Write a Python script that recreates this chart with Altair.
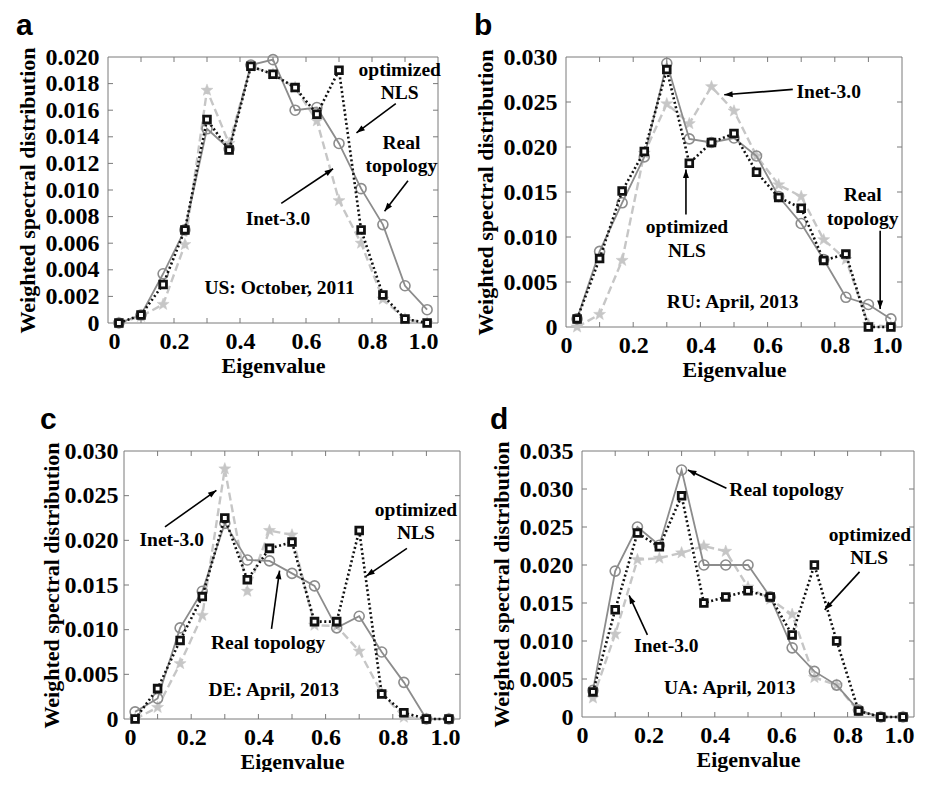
import math
import altair as alt
import pandas as pd

# ---------------- data ----------------
eigen = [0.033, 0.1, 0.167, 0.233, 0.3, 0.367, 0.433, 0.5, 0.567, 0.633, 0.7, 0.767, 0.833, 0.9, 0.967]

us_real = [0.0, 0.0006, 0.0037, 0.0070, 0.0146, 0.0131, 0.0194, 0.0198, 0.0160, 0.0162, 0.0135, 0.0101, 0.0074, 0.0028, 0.0010]
us_inet = [0.0, 0.0005, 0.0014, 0.0059, 0.0175, 0.0135, 0.0193, 0.0187, 0.0177, 0.0152, 0.0092, 0.0060, 0.0018, 0.0003, 0.0]
us_nls = [0.0, 0.0006, 0.0029, 0.0070, 0.0153, 0.0130, 0.0193, 0.0187, 0.0177, 0.0157, 0.0190, 0.0070, 0.0021, 0.0003, 0.0]

ru_real = [0.0009, 0.0084, 0.0138, 0.0189, 0.0293, 0.0209, 0.0205, 0.0210, 0.0190, 0.0145, 0.0115, 0.0075, 0.0033, 0.0025, 0.0009]
ru_inet = [0.0, 0.0014, 0.0074, 0.0193, 0.0248, 0.0226, 0.0267, 0.0240, 0.0190, 0.0158, 0.0145, 0.0097, 0.0075, 0.0003, 0.0]
ru_nls = [0.0009, 0.0076, 0.0151, 0.0195, 0.0286, 0.0182, 0.0205, 0.0215, 0.0172, 0.0144, 0.0132, 0.0074, 0.0081, 0.0, 0.0]

de_real = [0.0008, 0.0023, 0.0102, 0.0143, 0.0219, 0.0178, 0.0177, 0.0163, 0.0149, 0.0102, 0.0115, 0.0075, 0.0041, 0.0, 0.0]
de_inet = [0.0, 0.0013, 0.0062, 0.0116, 0.0280, 0.0143, 0.0211, 0.0206, 0.0105, 0.0104, 0.0076, 0.0029, 0.0002, 0.0, 0.0]
de_nls = [0.0, 0.0034, 0.0088, 0.0137, 0.0225, 0.0156, 0.0191, 0.0198, 0.0109, 0.0109, 0.0211, 0.0028, 0.0007, 0.0, 0.0]

ua_real = [0.0035, 0.0192, 0.0250, 0.0226, 0.0325, 0.0200, 0.0200, 0.0200, 0.0158, 0.0091, 0.0060, 0.0042, 0.0009, 0.0, 0.0]
ua_inet = [0.0025, 0.0109, 0.0207, 0.0209, 0.0216, 0.0225, 0.0218, 0.0171, 0.0155, 0.0135, 0.0052, 0.0042, 0.0007, 0.0, 0.0]
ua_nls = [0.0033, 0.0141, 0.0242, 0.0224, 0.0291, 0.0150, 0.0158, 0.0166, 0.0158, 0.0108, 0.0200, 0.0100, 0.0008, 0.0, 0.0]

x_labels = [0, 0.2, 0.4, 0.6, 0.8, 1.0]
x_minor = [0.1, 0.2, 0.3, 0.4, 0.5, 0.6, 0.7, 0.8, 0.9]
y_ticks_a = [0, 0.002, 0.004, 0.006, 0.008, 0.010, 0.012, 0.014, 0.016, 0.018, 0.020]
y_ticks_b = [0, 0.005, 0.010, 0.015, 0.020, 0.025, 0.030]
y_ticks_c = [0, 0.005, 0.010, 0.015, 0.020, 0.025, 0.030]
y_ticks_d = [0, 0.005, 0.010, 0.015, 0.020, 0.025, 0.030, 0.035]

# annotations: text, x, y
ann_a_text = ["optimized", "NLS", "Real", "topology", "Inet-3.0", "US: October, 2011"]
ann_a_x = [0.884, 0.884, 0.889, 0.889, 0.515, 0.52]
ann_a_y = [0.0190, 0.0173, 0.0135, 0.0118, 0.0078, 0.0026]
arr_a_x1 = [0.872, 0.909, 0.525]
arr_a_y1 = [0.0165, 0.0107, 0.0090]
arr_a_x2 = [0.753, 0.838, 0.682]
arr_a_y2 = [0.0143, 0.0084, 0.0116]

ann_b_text = ["Inet-3.0", "optimized", "NLS", "Real", "topology", "RU: April, 2013"]
ann_b_x = [0.782, 0.36, 0.36, 0.883, 0.883, 0.496]
ann_b_y = [0.0261, 0.0111, 0.0085, 0.0147, 0.0120, 0.0028]
arr_b_x1 = [0.675, 0.357, 0.935]
arr_b_y1 = [0.0264, 0.0125, 0.0107]
arr_b_x2 = [0.471, 0.357, 0.935]
arr_b_y2 = [0.0258, 0.0175, 0.0020]

ann_c_text = ["Inet-3.0", "optimized", "NLS", "Real topology", "DE: April, 2013"]
ann_c_x = [0.142, 0.869, 0.869, 0.429, 0.446]
ann_c_y = [0.0200, 0.0234, 0.0208, 0.0085, 0.0032]
arr_c_x1 = [0.122, 0.842, 0.439]
arr_c_y1 = [0.0215, 0.0191, 0.0101]
arr_c_x2 = [0.275, 0.721, 0.463]
arr_c_y2 = [0.0256, 0.0160, 0.0166]

ann_d_text = ["Real topology", "optimized", "NLS", "Inet-3.0", "UA: April, 2013"]
ann_d_x = [0.616, 0.867, 0.865, 0.254, 0.445]
ann_d_y = [0.0299, 0.0240, 0.0209, 0.0093, 0.0038]
arr_d_x1 = [0.435, 0.836, 0.197]
arr_d_y1 = [0.0301, 0.0191, 0.0108]
arr_d_x2 = [0.319, 0.731, 0.142]
arr_d_y2 = [0.0325, 0.0141, 0.0160]

# ---------------- styles ----------------
SERIF = "Liberation Serif"
SANS = "Liberation Sans"
FRAME = "#7a7a7a"
C_REAL = "#8c8c8c"
C_INET = "#c6c6c6"
C_NLS = "#111111"

star_pts = []
for k in range(10):
    r = 1.0 if k % 2 == 0 else 0.42
    ang = -math.pi / 2 + k * math.pi / 5
    star_pts.append(f"{r*math.cos(ang):.3f},{r*math.sin(ang):.3f}")
STAR = "M" + " L".join(star_pts) + " Z"
HEAD = "M0,0 L0.75,2.1 L-0.75,2.1 Z"


def panel(real, inet, nls, ymax, yticks, ann, arrows, letter, W, H, label_pad, title_pad,
          flush_last, off):
    xs = alt.Scale(domain=[0, 1], range=[off, off + W], nice=False, zero=False)
    ys = alt.Scale(domain=[0, ymax], nice=False, zero=False)
    xkw = {}
    if flush_last:
        xkw["labelAlign"] = {"condition": {"test": "datum.value >= 1", "value": "right"}, "value": "center"}
    if off:
        xkw["titleX"] = off + W / 2
        xkw["titleAlign"] = "center"
    xaxis = alt.Axis(values=x_labels, title="Eigenvalue",
                     labelExpr="datum.value == 0 ? '0' : format(datum.value, '.1f')",
                     ticks=False, domain=False, grid=False, labelPadding=6, titlePadding=2, **xkw)
    ykw = {"offset": -off} if off else {}
    yaxis = alt.Axis(values=yticks, title="Weighted spectral distribution",
                     labelExpr="datum.value == 0 ? '0' : format(datum.value, '.3f')",
                     ticks=False, domain=False, grid=False,
                     labelPadding=label_pad, titlePadding=title_pad, **ykw)
    X = alt.X("x:Q", scale=xs, axis=xaxis)
    Y = alt.Y("y:Q", scale=ys, axis=yaxis)

    df = pd.DataFrame({"x": eigen, "real": real, "inet": inet, "nls": nls})
    d_real = df.rename(columns={"real": "y"})
    d_inet = df.rename(columns={"inet": "y"})
    d_nls = df.rename(columns={"nls": "y"})

    frame = alt.Chart(pd.DataFrame({"k": [0]})).mark_rect(
        fill="transparent", stroke=FRAME, strokeWidth=1).encode(
        x=alt.value(off), x2=alt.value(off + W), y=alt.value(0), y2=alt.value(H))

    inner = [v for v in yticks if 0 < v < ymax]
    tx = pd.DataFrame({"x": x_minor})
    ty = pd.DataFrame({"y": inner})
    tick_b = alt.Chart(tx).mark_rule(color=FRAME, strokeWidth=1).encode(
        x=X, y=alt.value(H), y2=alt.value(H - 5))
    tick_t = alt.Chart(tx).mark_rule(color=FRAME, strokeWidth=1).encode(
        x=X, y=alt.value(0), y2=alt.value(5))
    tick_l = alt.Chart(ty).mark_rule(color=FRAME, strokeWidth=1).encode(
        y=Y, x=alt.value(off), x2=alt.value(off + 5))
    tick_r = alt.Chart(ty).mark_rule(color=FRAME, strokeWidth=1).encode(
        y=Y, x=alt.value(off + W - 5), x2=alt.value(off + W))

    inet_line = alt.Chart(d_inet).mark_line(color=C_INET, strokeWidth=2.4, strokeDash=[8, 4]).encode(x=X, y=Y)
    inet_pts = alt.Chart(d_inet).mark_point(shape=STAR, filled=True, fill=C_INET, stroke=C_INET,
                                            strokeWidth=0.5, size=160, opacity=1).encode(x=X, y=Y)
    real_line = alt.Chart(d_real).mark_line(color=C_REAL, strokeWidth=1.8).encode(x=X, y=Y)
    real_pts = alt.Chart(d_real).mark_point(shape="circle", filled=False, stroke=C_REAL,
                                            strokeWidth=1.6, size=100, opacity=1).encode(x=X, y=Y)
    nls_line = alt.Chart(d_nls).mark_line(color=C_NLS, strokeWidth=2.6, strokeDash=[2, 2.6]).encode(x=X, y=Y)
    nls_pts = alt.Chart(d_nls).mark_point(shape="square", filled=True, fill="white", stroke=C_NLS,
                                          strokeWidth=2.8, size=45, opacity=1).encode(x=X, y=Y)

    ax1, ay1, ax2, ay2 = arrows
    angles = []
    for a, b, c, d in zip(ax1, ay1, ax2, ay2):
        dx = (c - a) * W
        dy = -(d - b) / ymax * H
        angles.append((math.degrees(math.atan2(dx, -dy)) + 360) % 360)
    adf = pd.DataFrame({"x": ax1, "y": ay1, "x2": ax2, "y2": ay2, "ang": angles})
    arrow_line = alt.Chart(adf).mark_rule(color="black", strokeWidth=1.6).encode(
        x=X, y=Y, x2="x2:Q", y2="y2:Q")
    hdf = pd.DataFrame({"x": ax2, "y": ay2, "ang": angles})
    arrow_head = alt.Chart(hdf).mark_point(shape=HEAD, filled=True, color="black", size=64, opacity=1).encode(
        x=X, y=Y, angle=alt.Angle("ang:Q", scale=None))

    t_text, t_x, t_y = ann
    tdf = pd.DataFrame({"x": t_x, "y": t_y, "t": t_text})
    texts = alt.Chart(tdf).mark_text(font=SERIF, fontWeight="bold", fontSize=19.5, color="black",
                                     align="center", baseline="middle").encode(x=X, y=Y, text="t:N")

    return alt.layer(
        frame, tick_b, tick_t, tick_l, tick_r,
        inet_line, inet_pts, real_line, real_pts, nls_line, nls_pts,
        arrow_line, arrow_head, texts,
    ).properties(
        width=W + off, height=H,
        title=alt.TitleParams(text=letter, anchor="start", frame="bounds", font=SANS,
                              fontSize=30, fontWeight="bold", color="black", offset=4),
    )


pa = panel(us_real, us_inet, us_nls, 0.020, y_ticks_a, (ann_a_text, ann_a_x, ann_a_y),
           (arr_a_x1, arr_a_y1, arr_a_x2, arr_a_y2), "a", 330, 266, 9, 6, False, 0)
pb = panel(ru_real, ru_inet, ru_nls, 0.030, y_ticks_b, (ann_b_text, ann_b_x, ann_b_y),
           (arr_b_x1, arr_b_y1, arr_b_x2, arr_b_y2), "b", 336, 270, 9, 6, True, 0)
pc = panel(de_real, de_inet, de_nls, 0.030, y_ticks_c, (ann_c_text, ann_c_x, ann_c_y),
           (arr_c_x1, arr_c_y1, arr_c_x2, arr_c_y2), "c", 336, 268, 6, 1, False, 16)
pd_ = panel(ua_real, ua_inet, ua_nls, 0.035, y_ticks_d, (ann_d_text, ann_d_x, ann_d_y),
            (arr_d_x1, arr_d_y1, arr_d_x2, arr_d_y2), "d", 332, 266, 9, 6, True, 16)

chart = alt.concat(
    pa, pb, pc, pd_,
    columns=2,
    spacing={"row": 25, "column": 12},
).properties(
    padding={"left": 7, "top": 3, "right": 0, "bottom": 0},
    background="white",
).configure_view(
    stroke="transparent", strokeWidth=0,
).configure_axis(
    labelFont=SERIF, labelFontWeight="bold", labelFontSize=24, labelColor="black",
    titleFont=SERIF, titleFontWeight="bold", titleFontSize=22, titleColor="black",
)

chart.save("out.html", embed_options={"renderer": "svg", "actions": False})
